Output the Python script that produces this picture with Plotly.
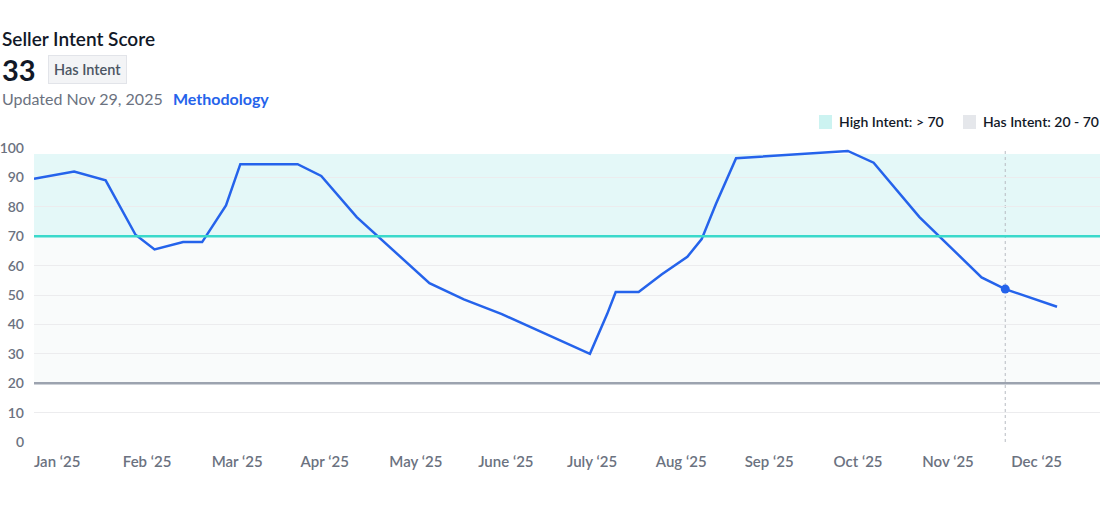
import pandas as pd
import plotly.graph_objects as go

# score history
dates = ["2025-01-01", "2025-01-15", "2025-01-26", "2025-02-05", "2025-02-11",
         "2025-02-20", "2025-02-26", "2025-03-06", "2025-03-11", "2025-03-31",
         "2025-04-08", "2025-04-20", "2025-05-15", "2025-05-27", "2025-06-09",
         "2025-07-09", "2025-07-15", "2025-07-18", "2025-07-26", "2025-08-03",
         "2025-08-12", "2025-08-17", "2025-08-22", "2025-08-29", "2025-10-06",
         "2025-10-15", "2025-10-31", "2025-11-21", "2025-11-29", "2025-12-17"]
scores = [89.5, 92, 89, 70.5, 65.5, 68, 68, 80.5, 94.5, 94.5,
          90.5, 76.5, 54, 48.5, 43.5, 30, 43.5, 51, 51, 57,
          63, 69, 81, 96.5, 99, 95, 76.5, 56, 52, 46]
month_labels = ["Jan ‘25", "Feb ‘25", "Mar ‘25", "Apr ‘25", "May ‘25", "June ‘25",
                "July ‘25", "Aug ‘25", "Sep ‘25", "Oct ‘25", "Nov ‘25", "Dec ‘25"]
current_date = "2025-11-29"
current_score = 33
high_threshold = 70
has_threshold = 20
band_top = 98

FONT = "Lato"


def month_pos(d):
    # every month gets the same width on this chart
    d = pd.Timestamp(d)
    return (d.month - 1) + (d.day - 1) / d.days_in_month


xs = [month_pos(d) for d in dates]
cur_x = month_pos(current_date)
cur_y = scores[dates.index(current_date)]

fig = go.Figure()
fig.add_trace(go.Scatter(x=xs, y=scores, mode="lines",
                         line=dict(color="#2563eb", width=2.5),
                         hoverinfo="skip", showlegend=False))
fig.add_trace(go.Scatter(x=[cur_x], y=[cur_y], mode="markers",
                         marker=dict(color="#2563eb", size=9),
                         hoverinfo="skip", showlegend=False))

# bands and threshold lines
fig.add_shape(type="rect", xref="x", yref="y", x0=0, x1=12, y0=high_threshold, y1=band_top,
              fillcolor="#e4f8f8", line_width=0, layer="below")
fig.add_shape(type="rect", xref="x", yref="y", x0=0, x1=12, y0=has_threshold, y1=high_threshold,
              fillcolor="#f9fbfb", line_width=0, layer="below")
fig.add_shape(type="line", xref="x", yref="y", x0=cur_x, x1=cur_x, y0=0, y1=100,
              line=dict(color="#b8bcc2", width=1, dash="dot"), layer="below")
fig.add_shape(type="line", xref="x", yref="y", x0=0, x1=12, y0=high_threshold, y1=high_threshold,
              line=dict(color="#3ad9cb", width=2.5))
fig.add_shape(type="line", xref="x", yref="y", x0=0, x1=12, y0=has_threshold, y1=has_threshold,
              line=dict(color="#9ca3af", width=2.5))

# header texts
def px(xp):
    return (xp - 34) / 1066


def py(yp):
    return (442 - yp) / 294


def note(text, x, y, size, color, weight=400, **kw):
    fig.add_annotation(text=text, x=px(x), y=py(y), xref="paper", yref="paper",
                       xanchor="left", yanchor="middle", showarrow=False,
                       font=dict(family=FONT, size=size, color=color, weight=weight), **kw)


note("Seller Intent Score", 0, 38, 19, "#111827", 600)
note(str(current_score), 0, 70, 29, "#111827", 700)
note("Has Intent", 48, 70, 14.5, "#4b5563", 600,
     bgcolor="#f3f4f6", bordercolor="#e2e4e9", borderwidth=1, borderpad=5)
note("Updated Nov 29, 2025", 0, 98, 16, "#6b7280")
note("Methodology", 171, 99, 16, "#2563eb", 700)

# legend
fig.add_shape(type="rect", xref="paper", yref="paper", x0=px(819), x1=px(832), y0=py(115), y1=py(129),
              fillcolor="#ccf3f1", line_width=0)
note("High Intent: > 70", 837, 122, 14, "#111827", 600)
fig.add_shape(type="rect", xref="paper", yref="paper", x0=px(963), x1=px(976), y0=py(115), y1=py(129),
              fillcolor="#e5e7eb", line_width=0)
note("Has Intent: 20 - 70", 981, 122, 14, "#111827", 600)

fig.update_layout(
    width=1101, height=512,
    margin=dict(l=34, r=1, t=148, b=70),
    paper_bgcolor="white", plot_bgcolor="white",
    font=dict(family=FONT, size=14, color="#6b7280"),
    showlegend=False,
)
fig.update_xaxes(range=[0, 12], tickvals=list(range(12)), ticktext=month_labels,
                 ticklabelposition="outside right", showgrid=False, zeroline=False,
                 showline=False, ticks="", ticklabelstandoff=9,
                 tickfont=dict(size=15, color="#6b7280", weight=600))
fig.update_yaxes(range=[0, 100], tickvals=list(range(0, 101, 10)), showgrid=True,
                 gridcolor="#ececee", gridwidth=1, zeroline=False, showline=False,
                 ticks="", ticklabelstandoff=9,
                 tickfont=dict(size=14, color="#6b7280", weight=600))

# drop the default page margin so the figure sits at the window's corner
fig.write_html("out.html", config={"displayModeBar": False},
               post_script="document.body.style.margin='0';")
